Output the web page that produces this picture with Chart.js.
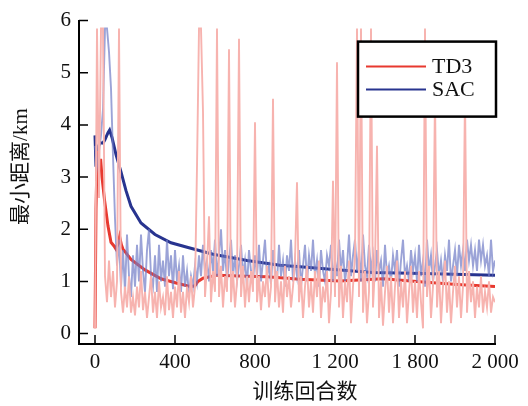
<!DOCTYPE html>
<html>
<head>
<meta charset="utf-8">
<script src="https://cdn.jsdelivr.net/npm/chart.js@4"></script>
<style>
  body { margin: 0; background: #fff; }
</style>
</head>
<body>
<canvas id="myChart" width="528" height="406"></canvas>
<script>
// raw curves are sampled every 10 episodes
const rawStep = 10
const td3Raw = [
  0.1, 5.85, 2.6, 5.85, 5.85, 1.1, 0.6, 1.4, 0.7, 1.2,
  0.5, 1.0, 5.85, 0.8, 0.4, 0.9, 0.5, 1.1, 0.4, 0.7,
  0.35, 0.9, 0.5, 1.2, 0.45, 0.8, 0.3, 0.7, 1.1, 0.4,
  0.8, 0.3, 1.0, 0.5, 0.7, 0.35, 1.1, 0.45, 0.8, 0.3,
  0.9, 0.5, 1.2, 0.4, 0.8, 0.3, 0.9, 0.6, 1.1, 0.5,
  0.9, 3.2, 5.85, 5.85, 4.25, 0.7, 1.3, 2.25, 0.6, 1.2,
  0.8, 5.85, 0.7, 1.3, 0.5, 1.1, 0.8, 5.45, 0.6, 1.2,
  0.5, 1.0, 5.65, 0.7, 1.3, 0.5, 1.1, 0.6, 1.2, 0.8,
  4.05, 0.6, 1.1, 0.45, 1.0, 0.7, 1.3, 0.5, 0.9, 4.5,
  0.6, 1.2, 0.5, 1.0, 0.4, 1.3, 0.7, 1.1, 0.5, 0.9,
  1.4, 2.9, 0.6, 1.1, 0.3, 0.9, 1.3, 0.5, 1.0, 0.4,
  1.2, 0.7, 1.4, 0.3, 0.9, 0.6, 1.2, 0.2, 0.8, 2.93,
  0.7, 5.2, 0.5, 1.3, 0.3, 1.0, 0.6, 1.4, 0.2, 0.9,
  1.5, 5.85, 0.7, 5.85, 0.4, 1.2, 0.2, 0.8, 5.85, 0.5,
  1.3, 3.6, 0.3, 1.0, 0.15, 0.8, 1.3, 0.4, 1.1, 0.2,
  0.9, 1.4, 0.3, 1.0, 0.5, 1.2, 0.2, 0.8, 1.3, 0.4,
  1.0, 0.3, 1.2, 0.6, 0.1, 5.85, 0.7, 1.3, 0.3, 0.9,
  4.6, 0.5, 1.2, 0.2, 0.9, 1.4, 0.4, 1.0, 0.2, 0.8,
  1.3, 0.5, 1.1, 0.3, 0.9, 4.6, 0.4, 1.2, 0.6, 1.0,
  0.3, 0.9, 0.5, 1.1, 0.4, 0.8, 0.5, 1.0, 0.4, 0.7,
  0.6
]
const sacRaw = [
  3.6, 3.2, 3.5, 3.8, 4.3, 5.85, 5.85, 5.4, 4.7, 3.4,
  2.2, 1.3, 1.8, 0.9, 1.6, 0.8, 1.9, 1.1, 0.7, 1.5,
  0.9, 1.7, 1.0, 1.9, 1.2, 0.8, 1.6, 2.0, 1.1, 0.9,
  1.5, 0.8, 1.7, 1.0, 1.4, 0.9, 1.8, 1.1, 1.5, 0.85,
  1.6, 1.0, 1.3, 0.8, 1.5, 0.9, 1.2, 0.75, 1.1, 0.9,
  1.3, 1.0, 1.5, 1.1, 1.7, 1.2, 1.4, 1.0, 1.6, 1.2,
  1.8, 1.1, 1.5, 2.0, 1.2, 1.6, 1.0, 1.4, 1.8, 1.1,
  1.5, 1.0, 1.3, 1.7, 1.1, 1.4, 0.9, 1.6, 1.2, 1.0,
  1.5, 1.1, 1.7, 1.0, 1.4, 1.8, 1.1, 1.3, 0.95, 1.6,
  1.2, 1.0, 1.7, 1.1, 1.4, 0.9, 1.5, 1.2, 1.8, 1.0,
  1.4, 1.1, 1.6, 0.9, 1.3, 1.7, 1.0, 1.5, 1.2, 1.8,
  1.1, 1.4, 0.9, 1.6, 1.2, 1.0, 1.5, 1.3, 1.7, 1.0,
  1.4, 1.1, 1.8, 1.2, 1.6, 1.0, 1.3, 1.9, 1.1, 1.5,
  1.8, 1.2, 1.6, 1.0, 1.9, 1.3, 1.1, 1.7, 1.2, 1.5,
  1.0, 1.6, 1.2, 1.4, 0.9, 1.7, 1.1, 1.3, 1.0, 1.5,
  1.2, 1.6, 0.9, 1.4, 1.8, 1.1, 1.3, 1.0, 1.6, 1.2,
  1.5, 1.0, 1.7, 1.1, 1.4, 0.9, 1.8, 1.2, 1.5, 1.0,
  1.3, 1.6, 1.1, 1.4, 1.0, 1.5, 1.2, 1.8, 1.0, 1.3,
  1.6, 1.1, 1.7, 1.3, 1.6, 1.2, 1.8, 1.4, 1.7, 1.3,
  1.6, 1.2, 1.8, 1.4, 1.7, 1.3, 1.5, 1.1, 1.8, 1.2,
  1.4
]

// smoothed curves
const td3SmoothEp = [0, 5, 10, 15, 22, 28, 35, 48, 65, 80, 95, 105, 115, 123, 132, 140, 180, 250, 330, 415,
  480, 500, 515, 540, 610, 760, 860, 1025, 1225, 1440, 1640, 1810, 2000]
const td3Smooth = [0.1, 2.4, 3.3, 3.5, 3.15, 3.35, 3.0, 2.55, 2.06, 1.75, 1.68, 1.62, 1.72, 1.86, 1.7, 1.62, 1.42, 1.22, 1.05, 0.96,
  0.9, 0.92, 1.0, 1.06, 1.12, 1.1, 1.09, 1.04, 1.01, 1.05, 0.99, 0.94, 0.9]
const sacSmoothEp = [0, 5, 12, 25, 40, 50, 65, 73, 85, 105, 130, 155, 180, 230, 300, 380, 465, 590, 760, 925,
  1025, 1225, 1390, 1640, 2000]
const sacSmooth = [3.8, 3.2, 3.55, 3.66, 3.65, 3.72, 3.85, 3.9, 3.76, 3.43, 3.1, 2.74, 2.44, 2.12, 1.9, 1.74, 1.65, 1.52, 1.4, 1.31,
  1.28, 1.22, 1.17, 1.15, 1.12]

const xTicks = [0, 400, 800, 1200, 1600, 2000]
const xTickLabels = ['0', '400', '800', '1 200', '1 800', '2 000']
const yTicks = [0, 1, 2, 3, 4, 5, 6]
const seriesNames = ['TD3', 'SAC']
const xTitle = '训练回合数'
const yTitle = '最小距离/km'

const latinFont = '"Liberation Serif", "Times New Roman", serif'
const mixedFont = '"Liberation Serif", "Noto Sans CJK SC", serif'

const rawPoints = (arr) => arr.map((v, i) => ({ x: i * rawStep, y: v }))
const smoothPoints = (eps, vals) => eps.map((e, i) => ({ x: e, y: vals[i] }))

// ticks drawn inward from the axis lines
const inwardTicks = {
  id: 'inwardTicks',
  afterDatasetsDraw(chart) {
    const { ctx, chartArea, scales } = chart
    ctx.save()
    ctx.strokeStyle = '#000'
    ctx.lineWidth = 1.5
    ctx.beginPath()
    scales.y.ticks.forEach(t => {
      const py = scales.y.getPixelForValue(t.value)
      ctx.moveTo(chartArea.left, py)
      ctx.lineTo(chartArea.left + 9, py)
    })
    scales.x.ticks.forEach(t => {
      const px = scales.x.getPixelForValue(t.value)
      ctx.moveTo(px, chartArea.bottom)
      ctx.lineTo(px, chartArea.bottom - 9)
    })
    ctx.stroke()
    ctx.restore()
  }
}

// boxed legend in the upper right, plus axis titles
const boxLegend = {
  id: 'boxLegend',
  afterDraw(chart) {
    const { ctx, chartArea } = chart
    const w = 138, h = 75
    const left = chartArea.right + 1 - w
    const top = chartArea.top + 21
    ctx.save()
    ctx.fillStyle = '#fff'
    ctx.fillRect(left, top, w, h)
    ctx.lineWidth = 2.5
    ctx.strokeStyle = '#000'
    ctx.strokeRect(left, top, w, h)
    const items = chart.data.datasets.filter(d => d.inLegend)
    items.forEach((d, i) => {
      const y = top + 25 + i * 23
      ctx.strokeStyle = d.borderColor
      ctx.lineWidth = 2
      ctx.beginPath()
      ctx.moveTo(left + 8, y)
      ctx.lineTo(left + 68, y)
      ctx.stroke()
      ctx.fillStyle = '#111'
      ctx.font = '22px ' + latinFont
      ctx.textBaseline = 'middle'
      ctx.textAlign = 'left'
      ctx.fillText(d.label, left + 74, y + 1)
    })

    ctx.fillStyle = '#111'
    ctx.font = '21px ' + mixedFont
    ctx.textAlign = 'center'
    ctx.textBaseline = 'middle'
    ctx.fillText(xTitle, chartArea.left + 226, 392)
    ctx.translate(21, chartArea.top + 146)
    ctx.rotate(-Math.PI / 2)
    ctx.fillText(yTitle, 0, 0)
    ctx.restore()
  }
}

const ctx = document.getElementById('myChart')
const config = {
  type: 'line',
  data: {
    datasets: [{
      label: seriesNames[0] + ' raw',
      data: rawPoints(td3Raw),
      borderColor: '#f7b3af',
      borderWidth: 1.9
    }, {
      label: seriesNames[1] + ' raw',
      data: rawPoints(sacRaw),
      borderColor: 'rgba(112, 124, 198, 0.7)',
      borderWidth: 1.9
    }, {
      label: seriesNames[0],
      inLegend: true,
      data: smoothPoints(td3SmoothEp, td3Smooth),
      borderColor: '#e8392f',
      borderWidth: 3
    }, {
      label: seriesNames[1],
      inLegend: true,
      data: smoothPoints(sacSmoothEp, sacSmooth),
      borderColor: '#28348f',
      borderWidth: 3
    }]
  },
  options: {
    responsive: false,
    animation: false,
    elements: { point: { radius: 0 }, line: { tension: 0 } },
    layout: { padding: { left: 0, top: 13, right: 33, bottom: 0 } },
    plugins: { legend: { display: false }, tooltip: { enabled: false } },
    scales: {
      x: {
        type: 'linear',
        min: -80,
        max: 2000,
        afterBuildTicks: (s) => { s.ticks = xTicks.map(v => ({ value: v })) },
        afterFit: (s) => { s.height = 62 },
        grid: { display: true, drawOnChartArea: false, drawTicks: false },
        border: { display: true, color: '#000', width: 2 },
        ticks: {
          color: '#111',
          padding: 6,
          maxRotation: 0,
          font: { family: latinFont, size: 21 },
          callback: (v, i) => xTickLabels[i]
        }
      },
      y: {
        min: -0.2,
        max: 6,
        afterBuildTicks: (s) => { s.ticks = yTicks.map(v => ({ value: v })) },
        afterFit: (s) => { s.width = 79 },
        grid: { display: true, drawOnChartArea: false, drawTicks: false },
        border: { display: true, color: '#000', width: 2 },
        ticks: {
          color: '#111',
          padding: 8,
          font: { family: latinFont, size: 21 },
          callback: (v) => String(v)
        }
      }
    }
  },
  plugins: [inwardTicks, boxLegend]
}
const myChart = new Chart(ctx, config)
</script>
</body>
</html>
